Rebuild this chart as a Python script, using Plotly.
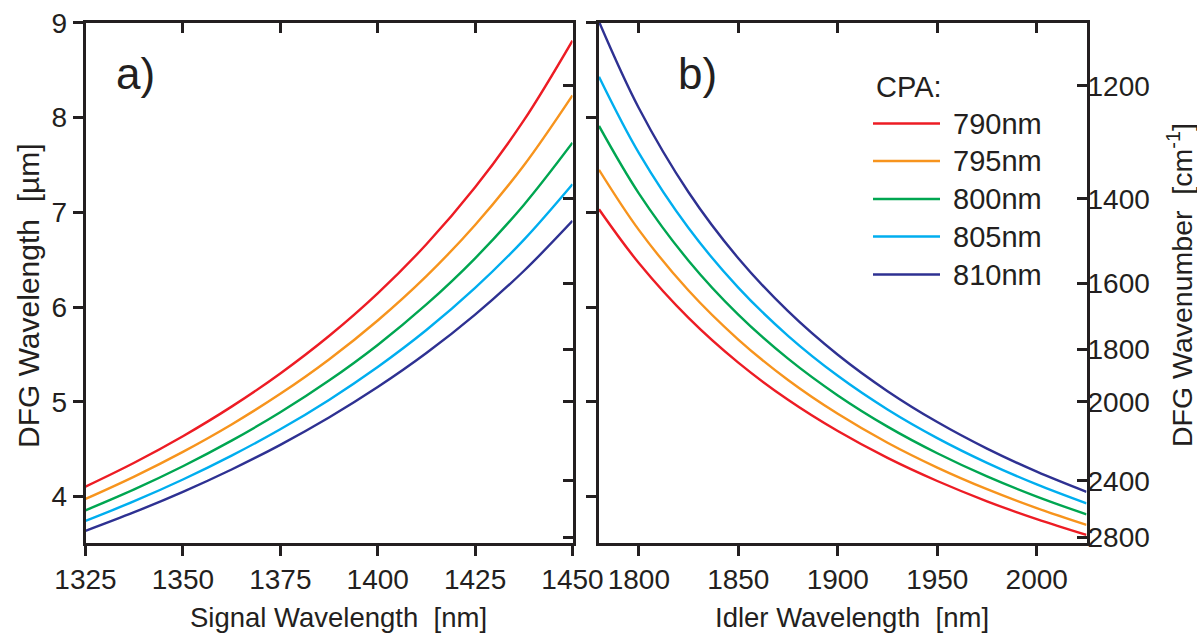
import plotly.graph_objects as go

W, H = 1197, 637

# ---------------- data ----------------
signal_nm = [1325, 1337.5, 1350, 1362.5, 1375, 1387.5, 1400, 1412.5, 1425, 1437.5, 1450]
idler_nm = [1780, 1800, 1825, 1850, 1875, 1900, 1925, 1950, 1975, 2000, 2025]

cpa_labels = ["790nm", "795nm", "800nm", "805nm", "810nm"]
cpa_colors = ["#ed1c24", "#f7941d", "#00a651", "#00aeef", "#2e3192"]

# DFG wavelength [um] vs signal wavelength (panel a)
dfg_signal_790 = [4.105, 4.357, 4.637, 4.949, 5.299, 5.694, 6.144, 6.662, 7.263, 7.969, 8.811]
dfg_signal_795 = [3.975, 4.211, 4.472, 4.761, 5.084, 5.447, 5.858, 6.326, 6.866, 7.494, 8.234]
dfg_signal_800 = [3.855, 4.076, 4.320, 4.590, 4.889, 5.224, 5.600, 6.027, 6.514, 7.077, 7.733]
dfg_signal_805 = [3.743, 3.951, 4.180, 4.432, 4.710, 5.020, 5.367, 5.757, 6.201, 6.709, 7.296]
dfg_signal_810 = [3.638, 3.835, 4.050, 4.286, 4.546, 4.834, 5.155, 5.514, 5.919, 6.380, 6.909]

# DFG wavelength [um] vs idler wavelength (panel b)
dfg_idler_790 = [7.031, 6.464, 5.885, 5.413, 5.021, 4.691, 4.408, 4.164, 3.950, 3.762, 3.595]
dfg_idler_795 = [7.448, 6.814, 6.174, 5.657, 5.230, 4.873, 4.568, 4.306, 4.078, 3.878, 3.701]
dfg_idler_800 = [7.911, 7.200, 6.489, 5.920, 5.455, 5.067, 4.738, 4.457, 4.213, 4.000, 3.812]
dfg_idler_805 = [8.429, 7.626, 6.833, 6.205, 5.696, 5.274, 4.919, 4.617, 4.356, 4.128, 3.928]
dfg_idler_810 = [9.011, 8.100, 7.211, 6.515, 5.956, 5.496, 5.112, 4.786, 4.506, 4.263, 4.050]

signal_ticks = [1325, 1350, 1375, 1400, 1425, 1450]
idler_ticks = [1800, 1850, 1900, 1950, 2000]
wavelength_ticks = [4, 5, 6, 7, 8, 9]
wavenumber_ticks = [1200, 1400, 1600, 1800, 2000, 2400, 2800]

dfg_signal = [dfg_signal_790, dfg_signal_795, dfg_signal_800, dfg_signal_805, dfg_signal_810]
dfg_idler = [dfg_idler_790, dfg_idler_795, dfg_idler_800, dfg_idler_805, dfg_idler_810]

# ---------------- styling ----------------
FONT = "Liberation Sans, Arial, Helvetica, sans-serif"
INK = "#231f20"
LW = 2.5
TICK_FS = 28
Y_RANGE = [3.51, 9.0]


def px(x):
    return x / W


def py(y):
    return 1 - y / H


fig = go.Figure()

for i in range(5):
    fig.add_trace(go.Scatter(x=signal_nm, y=dfg_signal[i], mode="lines",
                             line=dict(color=cpa_colors[i], width=2.4, shape="spline"),
                             name=cpa_labels[i], xaxis="x", yaxis="y", showlegend=False, cliponaxis=True))
    fig.add_trace(go.Scatter(x=idler_nm, y=dfg_idler[i], mode="lines",
                             line=dict(color=cpa_colors[i], width=2.4, shape="spline"),
                             name=cpa_labels[i], xaxis="x2", yaxis="y2", showlegend=False, cliponaxis=True))

# empty helper traces so that the overlaid tick-only axes are created
for xa, ya in [("x3", "y"), ("x4", "y2"), ("x", "y3"), ("x2", "y4")]:
    fig.add_trace(go.Scatter(x=[], y=[], xaxis=xa, yaxis=ya, showlegend=False, hoverinfo="skip"))

dom_x1 = [px(85.5), px(572.5)]
dom_x2 = [px(599), px(1086.5)]
dom_y = [py(543), py(22.7)]

common = dict(showgrid=False, zeroline=False, tickwidth=LW, tickcolor=INK, ticklen=10, automargin=False,
              tickfont=dict(family=FONT, size=TICK_FS, color=INK), tickmode="array", fixedrange=True)
frame = dict(showline=True, linewidth=LW, linecolor=INK, mirror=True)

layout = dict(
    width=W, height=H, margin=dict(l=0, r=0, t=0, b=0, autoexpand=False),
    paper_bgcolor="white", plot_bgcolor="white", showlegend=False,
    font=dict(family=FONT, color=INK),
    xaxis=dict(domain=dom_x1, range=[1325, 1450], anchor="y", tickvals=signal_ticks, ticks="outside",
               **common, **frame),
    yaxis=dict(domain=dom_y, range=Y_RANGE, anchor="x", tickvals=wavelength_ticks, ticks="outside",
               **common, **frame),
    xaxis2=dict(domain=dom_x2, range=[1780, 2025], anchor="y2", tickvals=idler_ticks, ticks="outside",
                **common, **frame),
    yaxis2=dict(domain=dom_y, range=Y_RANGE, anchor="x2", tickvals=wavelength_ticks, ticks="outside",
                showticklabels=False, **common, **frame),
    # mirrored tick marks pointing inward on the top edges
    xaxis3=dict(overlaying="x", side="top", anchor="y", range=[1325, 1450], tickvals=signal_ticks,
                ticks="inside", showticklabels=False, showline=False, **common),
    xaxis4=dict(overlaying="x2", side="top", anchor="y2", range=[1780, 2025], tickvals=idler_ticks,
                ticks="inside", showticklabels=False, showline=False, **common),
    # wavenumber scale (tick positions = 1e4 / wavenumber in um)
    yaxis3=dict(overlaying="y", side="right", anchor="x", range=Y_RANGE,
                tickvals=[1e4 / w for w in wavenumber_ticks], ticks="inside", showticklabels=False,
                showline=False, **common),
    yaxis4=dict(overlaying="y2", side="right", anchor="x2", range=Y_RANGE,
                tickvals=[1e4 / w for w in wavenumber_ticks], ticktext=[str(w) for w in wavenumber_ticks],
                ticks="inside", showline=False, **common),
)
fig.update_layout(**layout)

annotations = [
    # axis titles
    dict(text="Signal Wavelength \u00a0[nm]", x=px(338), y=py(617), font=dict(family=FONT, size=27.5, color=INK)),
    dict(text="Idler Wavelength \u00a0[nm]", x=px(852), y=py(617), font=dict(family=FONT, size=27.5, color=INK)),
    dict(text="DFG Wavelength \u00a0[\u00b5m]", x=px(29), y=py(296), textangle=-90,
         font=dict(family=FONT, size=30, color=INK)),
    dict(text="DFG Wavenumber \u00a0[cm<sup>-1</sup>]", x=px(1180), y=py(285), textangle=-90,
         font=dict(family=FONT, size=28.5, color=INK)),
    # panel labels
    dict(text="a)", x=px(135), y=py(74), font=dict(family=FONT, size=44, color=INK)),
    dict(text="b)", x=px(697), y=py(74), font=dict(family=FONT, size=44, color=INK)),
    dict(text="CPA:", x=px(874), y=py(87), xanchor="left", font=dict(family=FONT, size=29, color=INK)),
]
shapes = []
leg_y = [123.5, 161, 199, 236.5, 274.5]
for i in range(5):
    annotations.append(dict(text=cpa_labels[i], x=px(951), y=py(leg_y[i]), xanchor="left",
                            font=dict(family=FONT, size=29, color=INK)))
    shapes.append(dict(type="line", xref="paper", yref="paper", x0=px(873), x1=px(940),
                       y0=py(leg_y[i]), y1=py(leg_y[i]), line=dict(color=cpa_colors[i], width=2.6)))
for a in annotations:
    a.update(xref="paper", yref="paper", showarrow=False, yanchor="middle")
    a.setdefault("xanchor", "center")
fig.update_layout(annotations=annotations, shapes=shapes)

fig.write_html("out.html")
